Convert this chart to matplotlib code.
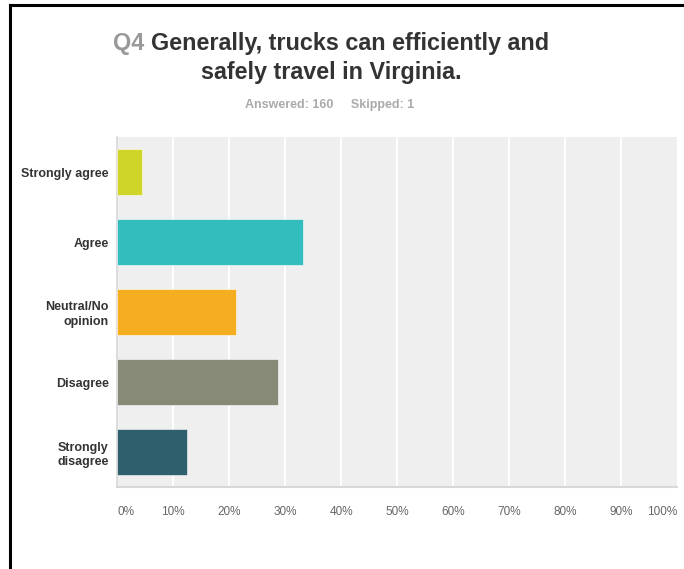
import numpy as np
import matplotlib.pyplot as plt
from matplotlib.lines import Line2D

plt.rcParams['font.family'] = ['Liberation Sans', 'DejaVu Sans']

## data
categories = ['Strongly agree', 'Agree', 'Neutral/No\nopinion', 'Disagree', 'Strongly\ndisagree']
responses = [7, 53, 34, 46, 20]
answered = 160
skipped = 1
colors = ['#d0d52a', '#33bdbd', '#f5ae20', '#888a78', '#2f5f6d']
ticks = [0, 10, 20, 30, 40, 50, 60, 70, 80, 90, 100]

pct = np.array(responses) / answered * 100

W, H = 684, 569
fig = plt.figure(figsize=(W / 100, H / 100), dpi=100)
ax = fig.add_axes([117 / W, 1 - 487 / H, (677 - 117) / W, (487 - 137) / H])
ax.set_facecolor('#efefef')

ypos = np.arange(len(categories))
ax.barh(ypos, pct, height=0.67, color=colors, edgecolor='white', linewidth=0.4, zorder=3)
ax.set_ylim(len(categories) - 0.5, -0.5)
ax.set_xlim(0, 100)

## grid
for t in ticks[1:-1]:
    ax.axvline(t, color='white', lw=1.4, zorder=1)

for s in ['top', 'right']:
    ax.spines[s].set_visible(False)
ax.spines['left'].set_color('#d8d8d8')
ax.spines['bottom'].set_color('#d8d8d8')
ax.spines['left'].set_linewidth(1.2)
ax.spines['bottom'].set_linewidth(1.5)

ax.set_yticks(ypos)
ax.set_yticklabels(categories, fontsize=9, fontweight='bold', color='#333333',
                   linespacing=1.3)
ax.tick_params(axis='y', length=0, pad=6)

ax.set_xticks(ticks)
ax.set_xticklabels([f'{t}%' for t in ticks], fontsize=8.5, color='#666666')
ax.tick_params(axis='x', length=0, pad=14)
xl = ax.get_xticklabels()
xl[0].set_ha('left')
xl[-1].set_ha('right')

## title, two colours on first line
fig.canvas.draw()
r = fig.canvas.get_renderer()
tfont = dict(fontsize=16.8, fontweight='bold')
t1 = fig.text(0, 0, 'Q4 ', color='#999999', **tfont)
t2 = fig.text(0, 0, 'Generally, trucks can efficiently and', color='#333333', **tfont)
w1 = t1.get_window_extent(r).width
w2 = t2.get_window_extent(r).width
x0 = 331 - (w1 + w2) / 2
t1.set_position((x0 / W, 1 - 50 / H))
t2.set_position(((x0 + w1) / W, 1 - 50 / H))
fig.text(331 / W, 1 - 79 / H, 'safely travel in Virginia.', color='#333333', ha='center', **tfont)

fig.text(330 / W, 1 - 105 / H, f'Answered: {answered}     Skipped: {skipped}',
         ha='center', va='center', fontsize=9, fontweight='bold', color='#aaaaaa')

## frame lines like the screenshot
fig.add_artist(Line2D([10 / W, 1], [1 - 5 / H, 1 - 5 / H], color='black', lw=2.2))
fig.add_artist(Line2D([10 / W, 10 / W], [0, 1 - 5 / H], color='black', lw=2.2))

fig.savefig('out.png', dpi=100)
